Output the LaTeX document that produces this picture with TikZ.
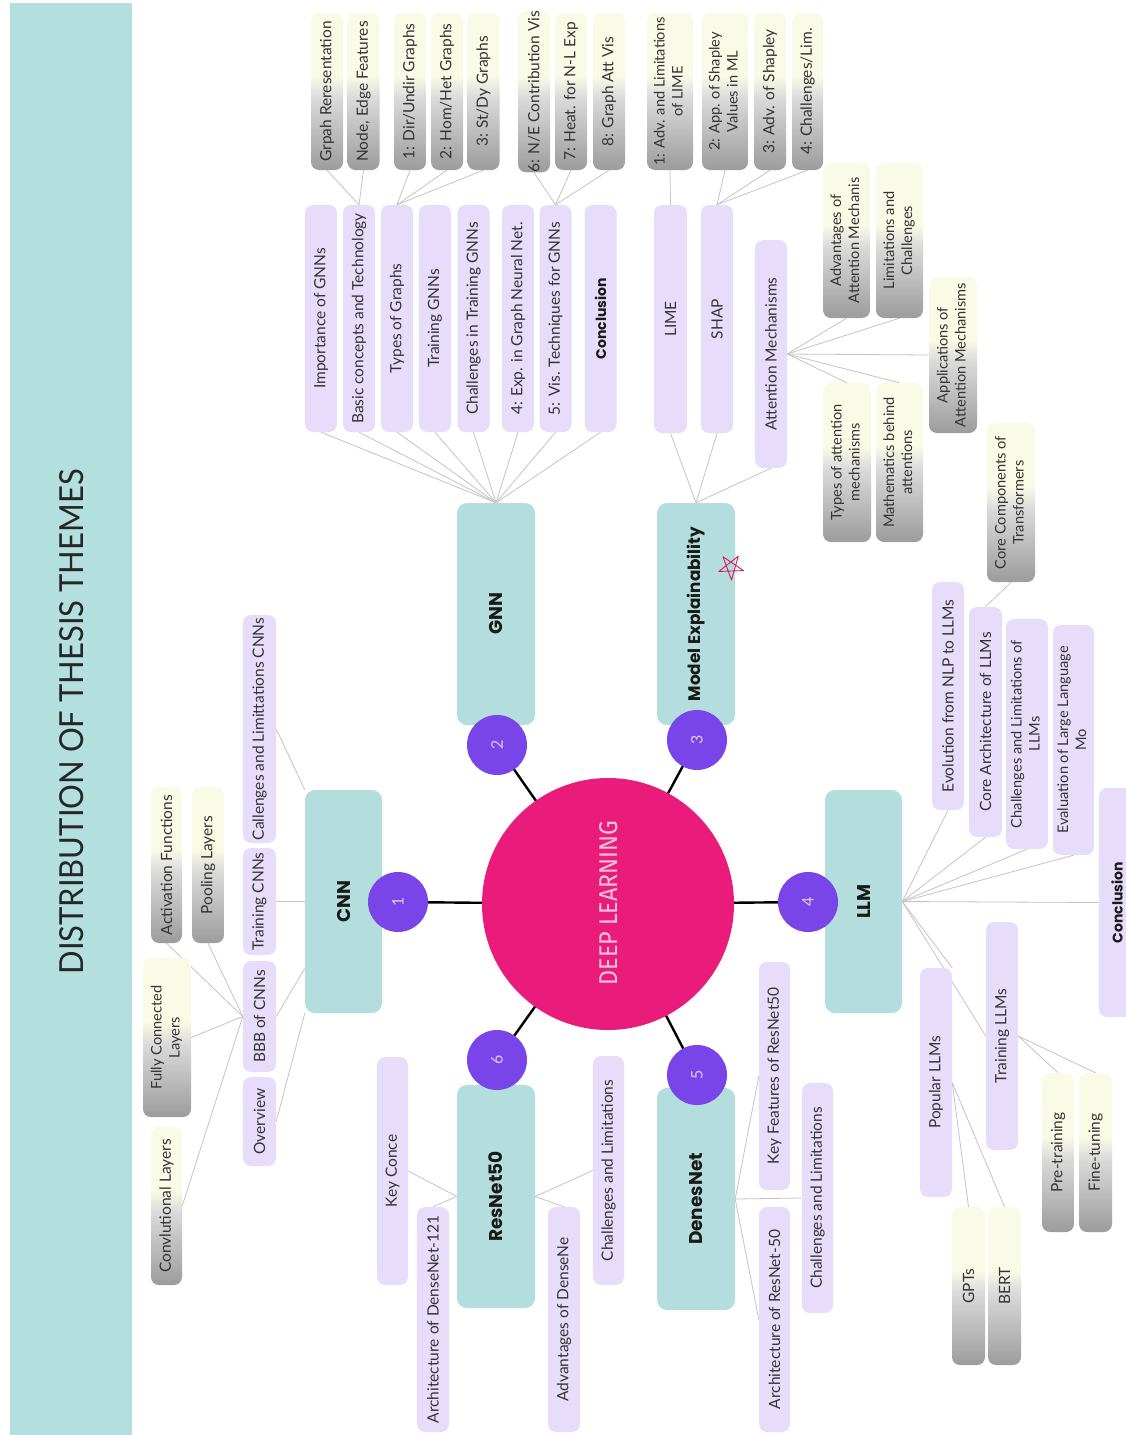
\documentclass[tikz,border=0pt]{standalone}
\usepackage{graphicx}
\usepackage{fontspec}
\setmainfont{Lato}
\newfontfamily\headfont{Poppins}
\newfontfamily\dlfont{Fira Sans}
\usetikzlibrary{calc}

\definecolor{stripteal}{HTML}{B4DFDF}
\definecolor{boxteal}{HTML}{B3DEDD}
\definecolor{lav}{HTML}{E7DDFA}
\definecolor{numpurple}{HTML}{7A45E8}
\definecolor{numtext}{HTML}{D9CCF9}
\definecolor{dlmagenta}{HTML}{EA1C7B}
\definecolor{dltext}{HTML}{F8C4DD}
\definecolor{linegray}{HTML}{C4C4C4}
\definecolor{leaftop}{HTML}{FAFBE6}
\definecolor{leafmid}{HTML}{DADADA}
\definecolor{leafbot}{HTML}{9C9C9C}
\definecolor{txt}{HTML}{333333}
\definecolor{starpink}{HTML}{D81B60}

\pgfdeclareverticalshading{leafshade}{100bp}{%
  color(0bp)=(leafbot); color(25bp)=(leafbot); color(48bp)=(leafmid);
  color(55bp)=(leaftop); color(75bp)=(leaftop); color(100bp)=(leaftop)}

\pgfdeclarelayer{back}
\pgfdeclarelayer{bg}
\pgfsetlayers{back,bg,main}

\newcommand\vtext[1]{\rotatebox{90}{#1}}
\newcommand\vtwo[2]{\rotatebox{90}{\fontsize{14.6}{18}\selectfont\begin{tabular}{@{}c@{}}#1\\#2\end{tabular}}}

\tikzset{
  topic/.style={fill=boxteal, rounded corners=10pt, inner sep=0pt,
    minimum width=78pt, minimum height=222pt, text=black!90,
    font=\headfont\bfseries\fontsize{18.5}{22}\selectfont},
  sub/.style={fill=lav, rounded corners=8pt, inner sep=0pt,
    minimum width=32pt, text=txt, font=\fontsize{15.5}{18}\selectfont},
  subbold/.style={sub, font=\headfont\bfseries\fontsize{14}{17}\selectfont, text=black!90},
  leaf/.style={shade, shading=leafshade, rounded corners=8pt, inner sep=0pt,
    minimum width=32pt, minimum height=157pt, text=txt,
    font=\fontsize{15.5}{18.5}\selectfont},
  num/.style={circle, fill=numpurple, minimum size=60pt, inner sep=0pt,
    text=numtext, font=\fontsize{16}{18}\selectfont},
  conn/.style={draw=linegray, line width=0.8pt},
  spoke/.style={draw=black, line width=2.4pt},
}

\begin{document}
\begin{tikzpicture}[x=1pt, y=-1pt]
\useasboundingbox (0,0) rectangle (1126,1435);

% page and title strip
\begin{pgfonlayer}{back}
  \fill[white] (0,0) rectangle (1126,1435);
  \fill[stripteal] (10,3) rectangle (132,1435);
\end{pgfonlayer}
\node[inner sep=0pt, text=black!85] (title) at (72,722)
  {\vtext{\resizebox{505pt}{24pt}{DISTRIBUTION OF THESIS THEMES}}};

% centre
\node[circle, fill=dlmagenta, minimum size=252pt, inner sep=0pt] (dl) at (608,904) {};
\node[inner sep=0pt, text=dltext] (dltitle) at (609,903)
  {\vtext{\resizebox{165pt}{18pt}{\dlfont DEEP LEARNING}}};

% main topics
\node[topic, minimum width=77pt, minimum height=223pt] (cnn) at (343.5,901.5) {\vtext{CNN}};
\node[topic] (gnn) at (496,614) {\vtext{GNN}};
\node[topic, font=\headfont\bfseries\fontsize{16.8}{20}\selectfont] (me) at (696,614)
  {\vtext{Model Explainability}};
\node[topic, minimum width=77pt, minimum height=223pt] (llm) at (863.5,901.5) {\vtext{LLM}};
\node[topic, minimum height=223pt] (res) at (496,1196.5) {\vtext{ResNet50}};
\node[topic] (den) at (696,1199) {\vtext{DenesNet}};

% numbered badges
\node[num] (n1) at (398,902) {\vtext{1}};
\node[num] (n2) at (497,745) {\vtext{2}};
\node[num] (n3) at (697,740) {\vtext{3}};
\node[num] (n4) at (808,902) {\vtext{4}};
\node[num] (n5) at (697,1075) {\vtext{5}};
\node[num] (n6) at (497,1060) {\vtext{6}};

% hand-drawn star
\draw[starpink, line width=0.9pt, line join=round]
  (731,567) +(160:13) -- +(304:13) -- +(88:13) -- +(232:13) -- +(16:13) -- cycle;

% ---------- GNN branch ----------
\node[sub, minimum height=227pt] (g1) at (321,318.5) {\vtext{Importance of GNNs}};
\node[sub, minimum height=227pt] (g2) at (359,318.5) {\vtext{Basic concepts and Technology}};
\node[sub, minimum height=227pt] (g3) at (397,318.5) {\vtext{Types of Graphs}};
\node[sub, minimum height=227pt] (g4) at (435,318.5) {\vtext{Training GNNs}};
\node[sub, minimum height=227pt] (g5) at (473.5,318.5) {\vtext{Challenges in Training GNNs}};
\node[sub, minimum height=227pt] (g6) at (518,318.5) {\vtext{4: Exp. in Graph Neural Net.}};
\node[sub, minimum height=227pt] (g7) at (555.5,318.5) {\vtext{5: Vis. Techniques for GNNs}};
\node[subbold, minimum height=227pt] (g8) at (600.5,318.5) {\vtext{Conclusion}};

\node[leaf] (gl1) at (327,91.5) {\vtext{Grpah Reresentation}};
\node[leaf] (gl2) at (363.5,91.5) {\vtext{Node, Edge Features}};
\node[leaf] (gl3) at (410,91.5) {\vtext{1: Dir/Undir Graphs}};
\node[leaf] (gl4) at (447,91.5) {\vtext{2: Hom/Het Graphs}};
\node[leaf] (gl5) at (483.5,91.5) {\vtext{3: St/Dy Graphs}};
\node[leaf] (gl6) at (534,91.5) {\vtext{6: N/E Contribution Vis}};
\node[leaf] (gl7) at (571,91.5) {\vtext{7: Heat. for N-L Exp}};
\node[leaf] (gl8) at (609,91.5) {\vtext{8: Graph Att Vis}};

% ---------- Model explainability branch ----------
\node[sub, minimum width=33pt, minimum height=228pt] (lime) at (670.5,319) {\vtext{LIME}};
\node[sub, minimum height=228pt] (shap) at (717,319) {\vtext{SHAP}};
\node[sub, minimum height=228pt] (att) at (771,354) {\vtext{Attention Mechanisms}};

\node[leaf, minimum width=46pt] (ml1) at (670,91.5) {\vtwo{1: Adv. and Limitations}{of LIME}};
\node[leaf, minimum width=46pt] (ml2) at (725,91.5) {\vtwo{2: App. of Shapley}{Values in ML}};
\node[leaf] (ml3) at (770,91.5) {\vtext{3: Adv. of Shapley}};
\node[leaf, minimum width=31pt] (ml4) at (807.5,91.5) {\vtext{4: Challenges/Lim.}};

\node[leaf, minimum width=47pt, minimum height=155pt] (a1) at (846.5,240.5) {\vtwo{Advantages of}{Attention Mechanis}};
\node[leaf, minimum width=47pt, minimum height=155pt] (a2) at (899.5,240.5) {\vtwo{Limitations and}{Challenges}};
\node[leaf, minimum width=48pt, minimum height=156pt] (a3) at (953,355) {\vtwo{Applications of}{Attention Mechanisms}};
\node[leaf, minimum width=48pt, minimum height=159pt] (a4) at (847,462.5) {\vtwo{Types of attention}{mechanisms}};
\node[leaf, minimum width=47pt, minimum height=159pt] (a5) at (899.5,462.5) {\vtwo{Mathematics behind}{attentions}};

% ---------- LLM branch ----------
\node[sub, minimum height=228pt] (l1) at (948,696) {\vtext{Evolution from NLP to LLMs}};
\node[sub, minimum width=33pt, minimum height=230pt] (l2) at (985.5,722) {\vtext{Core Architecture of LLMs}};
\node[sub, minimum width=42pt, minimum height=230pt] (l3) at (1027,734) {\vtwo{Challenges and Limitations of}{LLMs}};
\node[sub, minimum width=41pt, minimum height=230pt] (l4) at (1073.5,740) {\vtwo{Evaluation of Large Language}{Mo}};
\node[subbold, minimum width=36pt, minimum height=229pt] (l5) at (1117,902.5) {\vtext{Conclusion}};
\node[sub, minimum height=229pt] (l6) at (936,1082.5) {\vtext{Popular LLMs}};
\node[sub, minimum height=228pt] (l7) at (1002,1036) {\vtext{Training LLMs}};

\node[leaf, minimum width=48pt, minimum height=159pt] (a6) at (1011,502.5) {\vtwo{Core Components of}{Transformers}};
\node[leaf, minimum height=159pt] (ll1) at (1058,1152.5) {\vtext{Pre-training}};
\node[leaf, minimum width=33pt, minimum height=159pt] (ll2) at (1095.5,1152.5) {\vtext{Fine-tuning}};
\node[leaf, minimum width=33pt, minimum height=158pt] (ll3) at (968.5,1286) {\vtext{GPTs}};
\node[leaf, minimum width=33pt, minimum height=158pt] (ll4) at (1004.5,1286) {\vtext{BERT}};

% ---------- CNN branch ----------
\node[sub, minimum width=33pt, minimum height=228pt] (c1) at (259.5,729) {\vtext{Callenges and Limittations CNNs}};
\node[sub, minimum width=33pt, minimum height=107pt] (c2) at (259.5,901.5) {\vtext{Training CNNs}};
\node[sub, minimum width=33pt, minimum height=111pt] (c3) at (259.5,1016.5) {\vtext{BBB of CNNs}};
\node[sub, minimum width=33pt, minimum height=89pt] (c4) at (259.5,1121.5) {\vtext{Overview}};

\node[leaf, minimum width=31pt, minimum height=156pt] (cl1) at (166.5,865) {\vtext{Activation Functions}};
\node[leaf, minimum height=156pt] (cl2) at (208,865) {\vtext{Pooling Layers}};
\node[leaf, minimum width=48pt, minimum height=159pt] (cl3) at (167,1037.5) {\vtwo{Fully Connected}{Layers}};
\node[leaf, minimum width=31pt, minimum height=158pt] (cl4) at (166.5,1206) {\vtext{Convlutional Layers}};

% ---------- ResNet50 branch ----------
\node[sub, minimum width=31pt, minimum height=228pt] (r1) at (392.5,1171) {\vtext{Key Conce}};
\node[sub, minimum height=225pt] (r2) at (433,1319.5) {\vtext{Architecture of DenseNet-121}};
\node[sub, minimum height=225pt] (r3) at (564,1319.5) {\vtext{Advantages of DenseNe}};
\node[sub, minimum width=31pt, minimum height=229pt] (r4) at (608.5,1170.5) {\vtext{Challenges and Limitations}};

% ---------- DenesNet branch ----------
\node[sub, minimum width=31pt, minimum height=228pt] (d1) at (774.5,1076) {\vtext{Key Features of ResNet50}};
\node[sub, minimum width=31pt, minimum height=225pt] (d2) at (774.5,1319.5) {\vtext{Architecture of ResNet-50}};
\node[sub, minimum width=31pt, minimum height=230pt] (d3) at (817.5,1198) {\vtext{Challenges and Limitations}};

% ---------- connectors (behind the boxes) ----------
\begin{pgfonlayer}{bg}
  \foreach \n in {n1,n2,n3,n4,n5,n6} \draw[spoke] (dl.center) -- (\n.center);

  % CNN
  \coordinate (cnnbb) at ($(cnn.west)!0.6!(cnn.south west)$);
  \draw[conn] (cnn.north west) -- (c1.east);
  \draw[conn] (cnn.west) -- (c2.east);
  \draw[conn] (cnnbb) -- (c3.east);
  \draw[conn] (cnn.south west) -- (c4.east);
  \draw[conn] (c3.west) -- (cl1.south);
  \draw[conn] (c3.west) -- (cl2.south);
  \draw[conn] (c3.west) -- (cl3.east);
  \draw[conn] (c3.west) -- (cl4.east);

  % GNN
  \foreach \s in {g1,g2,g3,g4,g5,g6,g7,g8} \draw[conn] (gnn.north) -- (\s.south);
  \foreach \s in {gl1,gl2} \draw[conn] (g2.north) -- (\s.south);
  \foreach \s in {gl3,gl4,gl5} \draw[conn] (g3.north) -- (\s.south);
  \foreach \s in {gl6,gl7,gl8} \draw[conn] (g7.north) -- (\s.south);

  % Model explainability
  \foreach \s in {lime,shap,att} \draw[conn] (me.north) -- (\s.south);
  \draw[conn] (lime.north) -- (ml1.south);
  \foreach \s in {ml2,ml3,ml4} \draw[conn] (shap.north) -- (\s.south);
  \draw[conn] (att.east) -- (a1.south);
  \draw[conn] (att.east) -- (a2.south);
  \draw[conn] (att.east) -- (a3.west);
  \draw[conn] (att.east) -- (a4.north);
  \draw[conn] (att.east) -- (a5.north);

  % LLM
  \foreach \s in {l1,l2,l3,l4} \draw[conn] (llm.east) -- (\s.south);
  \draw[conn] (llm.east) -- (l5.west);
  \draw[conn] (llm.east) -- (l6.north east);
  \draw[conn] (llm.east) -- (l7.west);
  \draw[conn] (l2.north) -- (a6.south);
  \draw[conn] (l6.east) -- (ll3.north);
  \draw[conn] (l6.east) -- (ll4.north);
  \draw[conn] (l7.east) -- (ll1.north);
  \draw[conn] (l7.east) -- (ll2.north);

  % ResNet50
  \draw[conn] (res.west) -- (r1.east);
  \draw[conn] (res.west) -- (r2.north);
  \draw[conn] (res.east) -- (r3.north);
  \draw[conn] (res.east) -- (r4.west);

  % DenesNet
  \draw[conn] (den.east) -- (d1.west);
  \draw[conn] (den.east) -- (d2.west);
  \draw[conn] (den.east) -- (d3.west);
\end{pgfonlayer}
\end{tikzpicture}
\end{document}
